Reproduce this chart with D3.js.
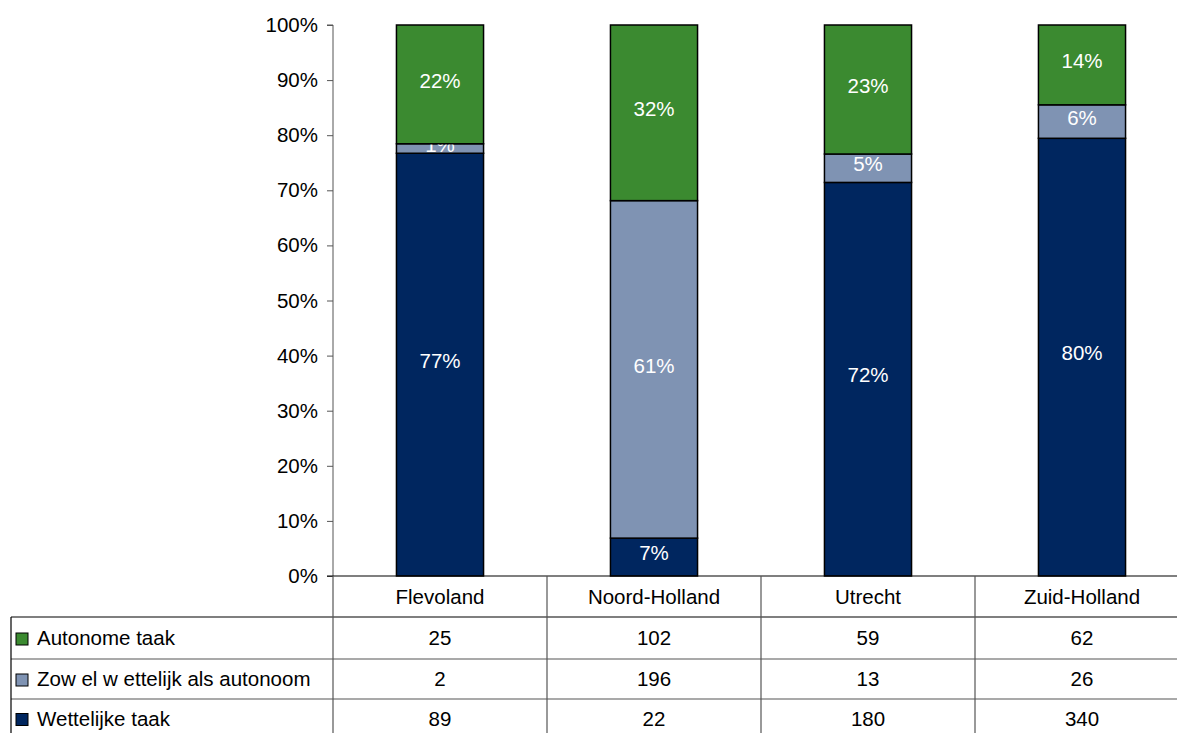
<!DOCTYPE html>
<html>
<head>
<meta charset="utf-8">
<script src="https://cdn.jsdelivr.net/npm/d3@7"></script>
<style>
  body { margin: 0; background: #fff; }
  text { font-family: "Liberation Sans", Arial, sans-serif; }
</style>
</head>
<body>
<script>
// provinces and counts per category
const provinces = ["Flevoland", "Noord-Holland", "Utrecht", "Zuid-Holland"];
const seriesNames = ["Wettelijke taak", "Zow el w ettelijk als autonoom", "Autonome taak"];
const wettelijk = [89, 22, 180, 340];
const zowel = [2, 196, 13, 26];
const autonoom = [25, 102, 59, 62];
// labels as printed in the chart
const wettelijkLbl = ["77%", "7%", "72%", "80%"];
const zowelLbl = ["1%", "61%", "5%", "6%"];
const autonoomLbl = ["22%", "32%", "23%", "14%"];
const yTicks = [0, 0.1, 0.2, 0.3, 0.4, 0.5, 0.6, 0.7, 0.8, 0.9, 1];

const colors = ["#00265f", "#7f93b3", "#3b8a30"];
const W = 1177, H = 733;
const fs = 20.5;

const svg = d3.select("body").append("svg")
  .attr("width", W)
  .attr("height", H);

const x0 = 333, colW = 214;
const x = d3.scaleBand()
  .domain(provinces)
  .range([x0, x0 + colW * provinces.length])
  .paddingInner(0.593)
  .paddingOuter(0.2965);
const y = d3.scaleLinear().domain([0, 1]).range([576, 25]);

const rows = provinces.map((p, i) => {
  const vals = [wettelijk[i], zowel[i], autonoom[i]];
  const total = d3.sum(vals);
  return { p, vals, total, labels: [wettelijkLbl[i], zowelLbl[i], autonoomLbl[i]] };
});

// y axis
const yAxis = d3.axisLeft(y)
  .tickValues(yTicks)
  .tickFormat(d3.format(".0%"))
  .tickSize(6)
  .tickPadding(9);
const ga = svg.append("g").attr("transform", `translate(${x0},0)`).call(yAxis);
ga.select(".domain").attr("stroke", "#555").attr("d", `M-6,25H0V576`);
ga.selectAll(".tick line").attr("stroke", "#555");
ga.selectAll(".tick text").attr("font-size", fs).attr("fill", "#000")
  .attr("font-family", "Liberation Sans, Arial, sans-serif");

// stacked bars
rows.forEach(r => {
  let acc = 0;
  r.vals.forEach((v, k) => {
    const f0 = acc / r.total, f1 = (acc + v) / r.total;
    acc += v;
    svg.append("rect")
      .attr("x", x(r.p))
      .attr("y", y(f1))
      .attr("width", x.bandwidth())
      .attr("height", y(f0) - y(f1))
      .attr("fill", colors[k])
      .attr("stroke", "#000")
      .attr("stroke-width", 1.5);
    svg.append("text")
      .attr("x", x(r.p) + x.bandwidth() / 2)
      .attr("y", (y(f0) + y(f1)) / 2 - 4)
      .attr("dy", "0.35em")
      .attr("text-anchor", "middle")
      .attr("font-size", fs)
      .attr("fill", "#fff")
      .text(r.labels[k]);
  });
});

// table below
const rowY = [576, 617, 659, 699, 740];
const tableLeft = 11, tableRight = x0 + colW * provinces.length;
svg.append("line").attr("x1", x0 - 6).attr("x2", tableRight).attr("y1", 576).attr("y2", 576)
  .attr("stroke", "#000").attr("stroke-width", 1.2);
[1, 2, 3].forEach(k => {
  svg.append("line").attr("x1", tableLeft).attr("x2", tableRight)
    .attr("y1", rowY[k]).attr("y2", rowY[k])
    .attr("stroke", k === 1 ? "#000" : "#555").attr("stroke-width", 1.2);
});
svg.append("line").attr("x1", tableLeft).attr("x2", tableLeft).attr("y1", 617).attr("y2", H)
  .attr("stroke", "#000").attr("stroke-width", 1.2);
provinces.forEach((p, i) => {
  const cx = x0 + colW * i;
  svg.append("line").attr("x1", cx).attr("x2", cx).attr("y1", 576).attr("y2", H)
    .attr("stroke", "#555").attr("stroke-width", 1.2);
  svg.append("text")
    .attr("x", cx + colW / 2).attr("y", 597).attr("dy", "0.35em")
    .attr("text-anchor", "middle").attr("font-size", fs).text(p);
});

const tableRows = [
  { name: seriesNames[2], vals: autonoom, c: colors[2] },
  { name: seriesNames[1], vals: zowel, c: colors[1] },
  { name: seriesNames[0], vals: wettelijk, c: colors[0] }
];
tableRows.forEach((tr, k) => {
  const cy = (rowY[k + 1] + Math.min(rowY[k + 2], H + 8)) / 2 + (k === 2 ? -1 : 0);
  svg.append("rect")
    .attr("x", 16).attr("y", cy - 5).attr("width", 12).attr("height", 12)
    .attr("fill", tr.c).attr("stroke", "#000").attr("stroke-width", 1);
  svg.append("text")
    .attr("x", 37).attr("y", cy).attr("dy", "0.35em")
    .attr("font-size", fs).text(tr.name);
  tr.vals.forEach((v, i) => {
    svg.append("text")
      .attr("x", x0 + colW * i + colW / 2).attr("y", cy).attr("dy", "0.35em")
      .attr("text-anchor", "middle").attr("font-size", fs).text(v);
  });
});
</script>
</body>
</html>
